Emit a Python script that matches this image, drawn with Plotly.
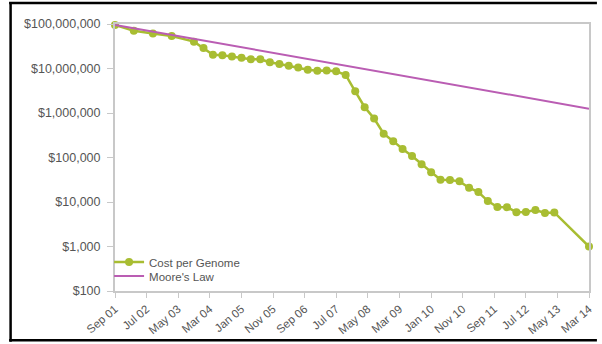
import plotly.graph_objects as go

# Sequencing cost per human genome (USD), quarterly-ish sampling
genome_dates = [
    "2001-09-01", "2002-03-01", "2002-09-01", "2003-03-01", "2003-10-01",
    "2004-01-01", "2004-04-01", "2004-07-01", "2004-10-01", "2005-01-01",
    "2005-04-01", "2005-07-01", "2005-10-01", "2006-01-01", "2006-04-01",
    "2006-07-01", "2006-10-01", "2007-01-01", "2007-04-01", "2007-07-01",
    "2007-10-01", "2008-01-01", "2008-04-01", "2008-07-01", "2008-10-01",
    "2009-01-01", "2009-04-01", "2009-07-01", "2009-10-01", "2010-01-01",
    "2010-04-01", "2010-07-01", "2010-10-01", "2011-01-01", "2011-04-01",
    "2011-07-01", "2011-10-01", "2012-01-01", "2012-04-01", "2012-07-01",
    "2012-10-01", "2013-01-01", "2013-04-01", "2014-03-01",
]
genome_cost = [
    95263072, 70175437, 61448422, 53751684, 40157554,
    28780376, 20442576, 19934346, 18519312, 17534970,
    16159699, 16180224, 13801124, 12585659, 11455315,
    10474556, 9408739, 8927342, 9047003, 8717455,
    7147571, 3063820, 1352982, 752080, 342502,
    232735, 154714, 108065, 70333, 46774,
    31512, 31125, 29092, 20963, 16712,
    10497, 7743, 7666, 5901, 5985,
    6618, 5671, 5826, 1000,
]

# Moore's Law reference trend (straight on a log axis)
moore_dates = ["2001-09-01", "2014-03-01"]
moore_cost = [95263072, 1251600]

# Axis ticks
x_tickvals = [
    "2001-09-01", "2002-07-01", "2003-05-01", "2004-03-01", "2005-01-01",
    "2005-11-01", "2006-09-01", "2007-07-01", "2008-05-01", "2009-03-01",
    "2010-01-01", "2010-11-01", "2011-09-01", "2012-07-01", "2013-05-01",
    "2014-03-01",
]
x_ticktext = [
    "Sep 01", "Jul 02", "May 03", "Mar 04", "Jan 05", "Nov 05", "Sep 06",
    "Jul 07", "May 08", "Mar 09", "Jan 10", "Nov 10", "Sep 11", "Jul 12",
    "May 13", "Mar 14",
]
y_tickvals = [100, 1000, 10000, 100000, 1000000, 10000000, 100000000]
y_ticktext = ["$100", "$1,000", "$10,000", "$100,000", "$1,000,000",
              "$10,000,000", "$100,000,000"]

GREEN = "#A8BD32"
MAGENTA = "#BA5DB3"
TEXT = "#555555"
AXIS = "#C8C8C8"
FONT = "Liberation Sans, Arial, Helvetica, sans-serif"

fig = go.Figure()
fig.add_trace(go.Scatter(
    x=genome_dates, y=genome_cost, name="Cost per Genome",
    mode="lines+markers",
    line=dict(color=GREEN, width=2.5),
    marker=dict(color=GREEN, size=8),
    cliponaxis=False, legend="legend", showlegend=True,
))
fig.add_trace(go.Scatter(
    x=moore_dates, y=moore_cost, name="Moore's Law",
    mode="lines",
    line=dict(color=MAGENTA, width=2),
    cliponaxis=False, legend="legend2", showlegend=True,
))

# Plot area: x 115..594 px, y 24..292 px
L, R, T, B = 115, 594, 24, 292
W, H = 602, 344


def px(xp):
    return (xp - L) / (R - L)


def py(yp):
    return (B - yp) / (B - T)


legend_common = dict(
    xanchor="left", yanchor="middle", bgcolor="rgba(0,0,0,0)",
    borderwidth=0, font=dict(family=FONT, size=11.5, color=TEXT),
    itemwidth=30,
)

fig.update_layout(
    width=W, height=H,
    margin=dict(l=L, r=W - R, t=T, b=H - B),
    paper_bgcolor="white", plot_bgcolor="white",
    font=dict(family=FONT, color=TEXT),
    showlegend=True,
    legend=dict(x=px(109), y=py(263), **legend_common),
    legend2=dict(x=px(109), y=py(277), **legend_common),
    xaxis=dict(
        type="date",
        range=["2001-09-01", "2014-03-01"],
        tickmode="array", tickvals=x_tickvals, ticktext=x_ticktext,
        tickangle=-40,
        ticks="outside", ticklen=5, tickcolor=AXIS, tickwidth=1,
        showline=True, linecolor=AXIS, linewidth=2, mirror=True,
        showgrid=False, zeroline=False,
        tickfont=dict(family=FONT, size=11.5, color=TEXT),
    ),
    yaxis=dict(
        type="log",
        range=[2, 8],
        tickmode="array", tickvals=y_tickvals, ticktext=y_ticktext,
        ticks="outside", ticklen=6, tickcolor=AXIS, tickwidth=1,
        ticklabelstandoff=4,
        showline=True, linecolor=AXIS, linewidth=2, mirror=True,
        showgrid=False, zeroline=False,
        tickfont=dict(family=FONT, size=12.5, color=TEXT),
    ),
    shapes=[
        # outer black frame (left, top, bottom)
        dict(type="line", xref="paper", yref="paper",
             x0=px(9.5), x1=px(9.5), y0=py(2), y1=py(343),
             line=dict(color="black", width=2.5)),
        dict(type="line", xref="paper", yref="paper",
             x0=px(8), x1=px(602), y0=py(3), y1=py(3),
             line=dict(color="black", width=2.5)),
        dict(type="line", xref="paper", yref="paper",
             x0=px(8), x1=px(602), y0=py(341.5), y1=py(341.5),
             line=dict(color="black", width=2.5)),
    ],
)

fig.write_html("out.html")
